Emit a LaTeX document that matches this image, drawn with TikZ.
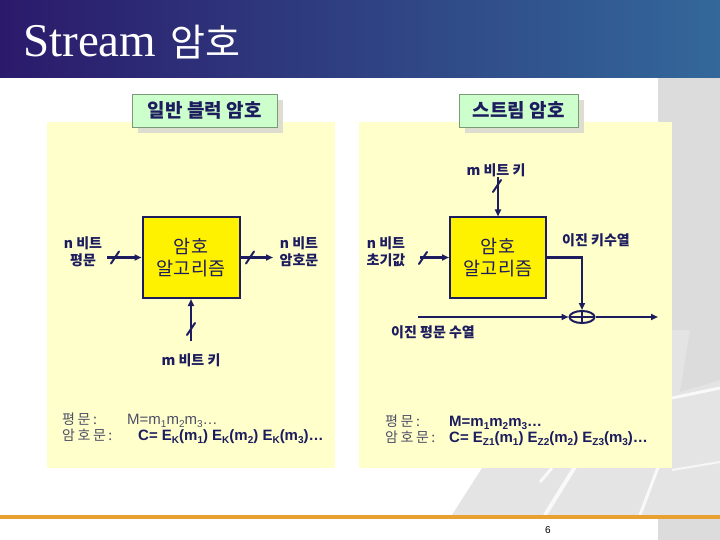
\documentclass[tikz,border=0pt]{standalone}
\usepackage{fontspec}
\setmainfont{Liberation Sans}
\newfontfamily\ko{Noto Sans CJK KR}
\newfontfamily\kow[LetterSpace=18]{Noto Sans CJK KR}
\newfontfamily\ttl{Liberation Serif}
\usetikzlibrary{arrows.meta,shapes.geometric,calc}
\definecolor{navy}{HTML}{1C1C5E}
\definecolor{barL}{HTML}{2B1A6B}
\definecolor{barR}{HTML}{33689A}
\definecolor{sidegrey}{HTML}{DCDCDC}
\definecolor{kbgrey}{HTML}{E4E4E4}
\definecolor{panel}{HTML}{FFFFCC}
\definecolor{tagfill}{HTML}{CCFFCC}
\definecolor{tagline}{HTML}{7A9A7A}
\definecolor{tagshadow}{HTML}{DEDED0}
\definecolor{greytext}{HTML}{4E4E66}
\definecolor{footer}{HTML}{E8A030}
\newcommand\subx[1]{\raisebox{-0.4ex}{\fontsize{10}{10}\selectfont #1}}
\newcommand\slmark[2]{\draw[slashmk] ($(#1,#2)+(-4,6)$) -- ($(#1,#2)+(4,-6)$);}
\tikzset{
  conn/.style={draw=navy, line width=2.2pt, -{Triangle[length=7pt,width=6pt]}},
  slashmk/.style={draw=navy, line width=2pt, line cap=round},
  algbox/.style={draw=navy, line width=2pt, fill=yellow, text=navy, align=center,
    font=\ko\fontsize{18.5}{22}\selectfont, inner sep=0pt},
  lbl/.style={text=navy, align=center, font=\ko\bfseries\fontsize{14}{17}\selectfont, inner sep=0pt},
  tag/.style={draw=tagline, fill=tagfill, text=navy, font=\ko\bfseries\fontsize{19}{19}\selectfont,
    inner sep=0pt, anchor=north west},
  xorn/.style={ellipse, draw=navy, line width=2pt, minimum width=25pt, minimum height=12pt, inner sep=0pt,
    path picture={\draw[navy, line width=1.6pt] (path picture bounding box.north) -- (path picture bounding box.south)
      (path picture bounding box.west) -- (path picture bounding box.east);}},
  bt/.style={text=greytext, font=\kow\fontsize{14}{14}\selectfont, anchor=base west, inner sep=0pt},
  mthin/.style={text=greytext, font=\fontsize{15}{15}\selectfont, anchor=base west, inner sep=0pt},
  mbold/.style={text=navy, font=\bfseries\fontsize{15}{15}\selectfont, anchor=base west, inner sep=0pt}
}
\begin{document}
\begin{tikzpicture}[x=1pt,y=-1pt]
\useasboundingbox (0,0) rectangle (720,540);
\fill[white] (0,0) rectangle (720,540);
% side grey and keyboard background
\fill[sidegrey] (658,78) rectangle (720,540);
\fill[kbgrey] (452,515) -- (500,440) -- (556,330) -- (720,330) -- (720,515) -- cycle;
\fill[sidegrey] (690,330) -- (720,330) -- (720,380) -- (680,392) -- cycle;
\draw[white, line width=4pt, opacity=0.8] (545,515) -- (578,462);
\draw[white, line width=3pt, opacity=0.8] (640,515) -- (660,462);
\draw[white, line width=3pt, opacity=0.8] (540,482) -- (552,468);
\draw[white, line width=3pt, opacity=0.8] (672,398) -- (720,388);
\draw[white, line width=2pt, opacity=0.7] (672,470) -- (720,462);
% title bar
\shade[left color=barL, right color=barR] (0,0) rectangle (720,78);
\node[anchor=base west, text=white, inner sep=0pt] (title) at (23,57)
  {\ttl\fontsize{47}{47}\selectfont Stream\hspace{14pt}\ko\fontsize{38}{38}\selectfont 암호};
% panels
\fill[panel] (47,122) rectangle (335,468);
\fill[panel] (359,122) rectangle (672,468);
% tags
\fill[tagshadow] (138,100) rectangle (283,133);
\node[tag, minimum width=145pt, minimum height=33pt] (tagL) at (132,94) {일반 블럭 암호};
\fill[tagshadow] (465,100) rectangle (584,133);
\node[tag, minimum width=119pt, minimum height=33pt] (tagR) at (459,94) {스트림 암호};
% ---------- left: block cipher ----------
\node[algbox, minimum width=97pt, minimum height=81pt] (encL) at (191,257.5) {암호\\알고리즘};
\node[lbl] (ptL) at (83,252) {n 비트\\평문};
\node[lbl] (ctL) at (299,252) {n 비트\\암호문};
\node[lbl] (keyL) at (191,360) {m 비트 키};
\coordinate (inL) at (107,257.5);
\coordinate (outL) at (273,257.5);
\coordinate (kL) at (191,341);
\draw[conn] (inL) -- (encL.west);
\draw[conn] (encL.east) -- (outL);
\draw[conn] (kL) -- (encL.south);
\slmark{115}{257.5}
\slmark{250}{257.5}
\slmark{191}{329}
% ---------- right: stream cipher ----------
\node[algbox, minimum width=96pt, minimum height=80pt] (encR) at (498,257.5) {암호\\알고리즘};
\node[lbl] (keyR) at (496,170) {m 비트 키};
\node[lbl] (ivR) at (386,252) {n 비트\\초기값};
\node[lbl] (ksR) at (596,240) {이진 키수열};
\node[lbl] (psR) at (433,332) {이진 평문 수열};
\node[xorn] (xr) at (582,317) {};
\coordinate (kR) at (498,177);
\coordinate (inR) at (420,257.5);
\coordinate (pin) at (418,317);
\coordinate (pout) at (658,317);
\draw[conn] (kR) -- (encR.north);
\draw[conn] (inR) -- (encR.west);
\draw[conn] (encR.east) -| (xr.north);
\draw[conn] (pin) -- (xr.west);
\draw[conn] (xr.east) -- (pout);
\slmark{497}{186}
\slmark{423}{258}
% ---------- formulas ----------
\node[bt] (l1a) at (62,424) {평문:};
\node[mthin] (l1b) at (127,424) {M=m\subx{1}m\subx{2}m\subx{3}…};
\node[bt] (l2a) at (62,440) {암호문:};
\node[mbold] (l2b) at (138,440) {C= E\subx{K}(m\subx{1}) E\subx{K}(m\subx{2}) E\subx{K}(m\subx{3})…};
\node[bt] (r1a) at (385,426) {평문:};
\node[mbold] (r1b) at (449,426) {M=m\subx{1}m\subx{2}m\subx{3}…};
\node[bt] (r2a) at (385,442) {암호문:};
\node[mbold] (r2b) at (449,442) {C= E\subx{Z1}(m\subx{1}) E\subx{Z2}(m\subx{2}) E\subx{Z3}(m\subx{3})…};
% footer
\fill[footer] (0,515) rectangle (720,518.5);
\node[font=\fontsize{10}{10}\selectfont, text=black] (pg) at (548,530) {6};
\end{tikzpicture}
\end{document}
